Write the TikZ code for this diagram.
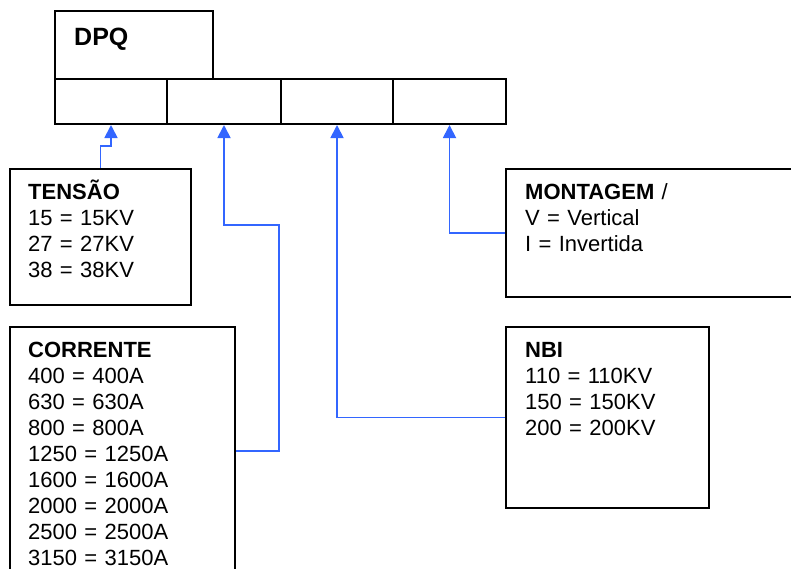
\documentclass[tikz,border=0pt]{standalone}
\usepackage{fontspec}
\setmainfont{Liberation Sans}
\usepackage{xcolor}
\usepackage{tikz}
\usetikzlibrary{arrows.meta,calc}

\definecolor{linkblue}{RGB}{51,102,255}

\tikzset{
  box/.style={draw=black, line width=2pt, rectangle, anchor=north west, inner sep=0pt},
  txt/.style={anchor=base west, inner sep=0pt, align=left, text width=260pt,
    font=\fontsize{22}{26}\selectfont},
  conn/.style={draw=linkblue, line width=1.8pt, -{Triangle[length=13pt,width=13pt]}}
}

\begin{document}
\begin{tikzpicture}[x=1pt, y=-1pt]
    \useasboundingbox (0,0) rectangle (791,568);
    % Code header
    \node[box, minimum width=158, minimum height=68] (dpq) at (54,10) {};
    \node[anchor=base west, inner sep=0pt, font=\fontsize{25}{30}\selectfont\bfseries] (dpqtxt) at (74,45) {DPQ};
    \node[box, minimum width=112, minimum height=45] (c1) at (54,78) {};
    \node[box, minimum width=114, minimum height=45] (c2) at (166,78) {};
    \node[box, minimum width=112, minimum height=45] (c3) at (280,78) {};
    \node[box, minimum width=113, minimum height=45] (c4) at (392,78) {};
    % Option boxes
    \node[box, minimum width=181, minimum height=136] (tensao) at (9,168) {};
    \node[txt] (tensaotxt) at (28,199) {\textbf{TENSÃO}\\15 = 15KV\\27 = 27KV\\38 = 38KV};
    \node[box, minimum width=225, minimum height=248] (corrente) at (9,326) {};
    \node[txt] (correntetxt) at (28,357) {\textbf{CORRENTE}\\400 = 400A\\630 = 630A\\800 = 800A\\1250 = 1250A\\1600 = 1600A\\2000 = 2000A\\2500 = 2500A\\3150 = 3150A};
    \node[box, minimum width=300, minimum height=128] (montagem) at (505,168) {};
    \node[txt] (montagemtxt) at (525,199) {\textbf{MONTAGEM} /\\V = Vertical\\I = Invertida};
    \node[box, minimum width=203, minimum height=181] (nbi) at (505,326) {};
    \node[txt] (nbitxt) at (525,357) {\textbf{NBI}\\110 = 110KV\\150 = 150KV\\200 = 200KV};
    % Connectors
    \coordinate (bend2) at (279,225);
    \draw[conn] (tensao.north) -- ++(0,-22) -| (c1.south);
    \draw[conn] (corrente.east) -| (bend2) -| (c2.south);
    \draw[conn] (nbi.west) -| (c3.south);
    \draw[conn] (montagem.west) -| (c4.south);
\end{tikzpicture}
\end{document}
